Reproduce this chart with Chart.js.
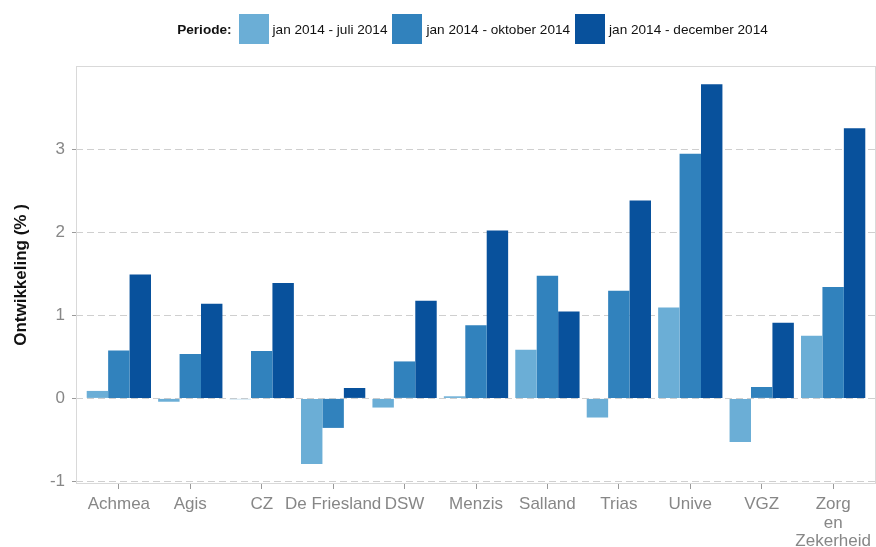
<!DOCTYPE html>
<html lang="nl">
<head>
<meta charset="utf-8">
<title>Ontwikkeling per zorgverzekeraar</title>
<script src="https://cdn.jsdelivr.net/npm/chart.js@4.4.1/dist/chart.umd.min.js"></script>
<style>
    html, body { margin: 0; padding: 0; background: #fff; overflow: hidden; }
    #wrap { position: relative; width: 876px; height: 547px; }
    #legend {
        position: absolute; top: 14px; left: 0; width: 876px; padding-left: 74px;
        box-sizing: border-box; display: flex; justify-content: center; align-items: center;
        font-family: 'Liberation Sans', Arial, sans-serif; font-size: 13.6px; color: #111;
    }
    #legend .title { font-weight: bold; margin-right: 7px; }
    #legend .item { display: flex; align-items: center; margin-right: 5px; }
    #legend .box { width: 30px; height: 30px; margin-right: 4px; }
</style>
</head>
<body>
<div id="wrap">
    <canvas id="chart" width="876" height="547"></canvas>
    <div id="legend"></div>
</div>
<script>
const categories = ['Achmea', 'Agis', 'CZ', 'De Friesland', 'DSW', 'Menzis', 'Salland', 'Trias', 'Unive', 'VGZ', ['Zorg', 'en', 'Zekerheid']];
const julyValues = [0.09, -0.04, -0.01, -0.79, -0.11, 0.025, 0.585, -0.23, 1.095, -0.525, 0.755];
const octoberValues = [0.575, 0.535, 0.57, -0.355, 0.445, 0.88, 1.477, 1.296, 2.945, 0.137, 1.34];
const decemberValues = [1.49, 1.14, 1.39, 0.125, 1.175, 2.02, 1.047, 2.38, 3.78, 0.91, 3.25];
const seriesLabels = ['jan 2014 - juli 2014', 'jan 2014 - oktober 2014', 'jan 2014 - december 2014'];
const seriesColors = ['#6baed6', '#3182bd', '#08519c'];
const yTicks = [-1, 0, 1, 2, 3];

Chart.defaults.font.family = "'Liberation Sans', Arial, sans-serif";

// light frame round the plot panel
const panelBorder = {
    id: 'panelBorder',
    beforeDatasetsDraw(chart) {
        const { ctx, chartArea: a } = chart;
        ctx.save();
        ctx.strokeStyle = '#d9d9d9';
        ctx.lineWidth = 1;
        ctx.strokeRect(a.left + 0.5, a.top + 0.5, a.width - 1, a.height - 1);
        ctx.restore();
    }
};

function buildLegend() {
    const legend = document.getElementById('legend');
    const title = document.createElement('span');
    title.className = 'title';
    title.textContent = 'Periode:';
    legend.appendChild(title);

    seriesLabels.forEach((label, i) => {
        const item = document.createElement('span');
        item.className = 'item';
        const box = document.createElement('span');
        box.className = 'box';
        box.style.background = seriesColors[i];
        const text = document.createElement('span');
        text.textContent = label;
        item.appendChild(box);
        item.appendChild(text);
        legend.appendChild(item);
    });
}

function renderChart() {
    const ctx = document.getElementById('chart').getContext('2d');
    const series = [julyValues, octoberValues, decemberValues];

    new Chart(ctx, {
        type: 'bar',
        data: {
            datasets: series.map((values, i) => ({
                label: seriesLabels[i],
                data: values.map((v, j) => ({ x: j + 1, y: v })),
                backgroundColor: seriesColors[i],
                borderWidth: 0,
                categoryPercentage: 0.9,
                barPercentage: 1.0
            }))
        },
        options: {
            responsive: false,
            animation: false,
            layout: { padding: { top: 66, right: 0, bottom: 0, left: 0 } },
            plugins: {
                legend: { display: false },
                tooltip: { enabled: false }
            },
            scales: {
                x: {
                    type: 'linear',
                    min: 0.4,
                    max: 11.6,
                    offset: false,
                    afterBuildTicks: scale => { scale.ticks = categories.map((c, i) => ({ value: i + 1 })); },
                    afterFit: scale => { scale.height = 63; scale.paddingLeft = 0; scale.paddingRight = 0; },
                    grid: { offset: false, drawOnChartArea: false, drawTicks: true, tickLength: 5, tickColor: '#9a9a9a' },
                    border: { display: false },
                    ticks: {
                        callback: v => categories[v - 1],
                        autoSkip: false,
                        maxRotation: 0,
                        minRotation: 0,
                        color: '#878787',
                        font: { size: 17, lineHeight: 1.1 },
                        padding: 6
                    }
                },
                y: {
                    min: -1.03,
                    max: 4.0,
                    afterBuildTicks: scale => { scale.ticks = yTicks.map(v => ({ value: v })); },
                    afterFit: scale => { scale.width = 76; },
                    grid: { color: '#cfcfcf', lineWidth: 1, drawTicks: true, tickLength: 4, tickColor: '#9a9a9a', tickBorderDash: [] },
                    border: { display: false, dash: [7, 4] },
                    ticks: { color: '#878787', font: { size: 17 }, padding: 7 },
                    title: {
                        display: true,
                        text: 'Ontwikkeling (% )',
                        color: '#111',
                        font: { size: 17, weight: 'bold' },
                        padding: { top: 11, bottom: 0 }
                    }
                }
            }
        },
        plugins: [panelBorder]
    });
}

buildLegend();
renderChart();
</script>
</body>
</html>
